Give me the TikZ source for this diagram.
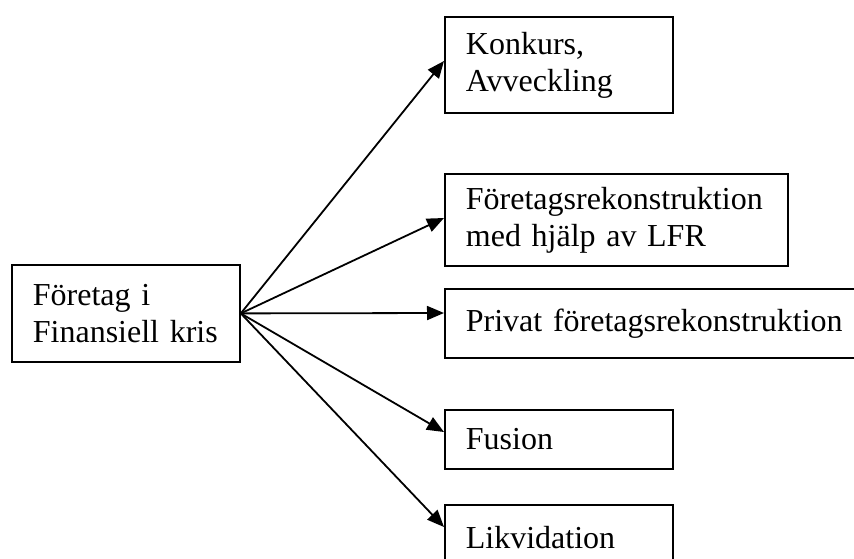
\documentclass[tikz,border=0pt]{standalone}
\usepackage{fontspec}
\setmainfont{Liberation Serif}
\usetikzlibrary{arrows.meta}

\begin{document}
\begin{tikzpicture}[x=1pt,y=-1pt,
	stage/.style={draw, line width=1.8pt, anchor=north west, inner xsep=21pt, inner ysep=0pt, align=left, font=\fontsize{32}{37}\selectfont},
	flow/.style={line width=1.8pt, -{Triangle[length=17pt,width=14pt]}}]
	\clip (0,0) rectangle (854,558);
	\node [stage, text width=186pt, minimum height=97pt] (kris) at (11,264) {Företag i\\Finansiell~kris};
	\node [stage, text width=186pt, minimum height=96pt] (konkurs) at (444,16) {Konkurs,\\Avveckling};
	\node [stage, text width=301pt, minimum height=92pt] (lfr) at (444,173) {Företagsrekonstruktion\\med hjälp av LFR};
	\node [stage, text width=394pt, minimum height=69pt] (privat) at (444,288) {Privat företagsrekonstruktion};
	\node [stage, text width=186pt, minimum height=59pt] (fusion) at (444,409) {Fusion};
	\node [stage, text width=186pt, minimum height=66pt] (likvid) at (444,504) {Likvidation};
	\coordinate (in1) at ([yshift=-45pt]konkurs.north west);
	\coordinate (in2) at ([yshift=-45pt]lfr.north west);
	\coordinate (in3) at ([yshift=-25pt]privat.north west);
	\coordinate (in4) at ([yshift=-23pt]fusion.north west);
	\coordinate (in5) at ([yshift=-23pt]likvid.north west);
	\draw [flow] (kris.east) -- (in1);
	\draw [flow] (kris.east) -- (in2);
	\draw [flow] (kris.east) -- (in3);
	\draw [flow] (kris.east) -- (in4);
	\draw [flow] (kris.east) -- (in5);
\end{tikzpicture}
\end{document}
